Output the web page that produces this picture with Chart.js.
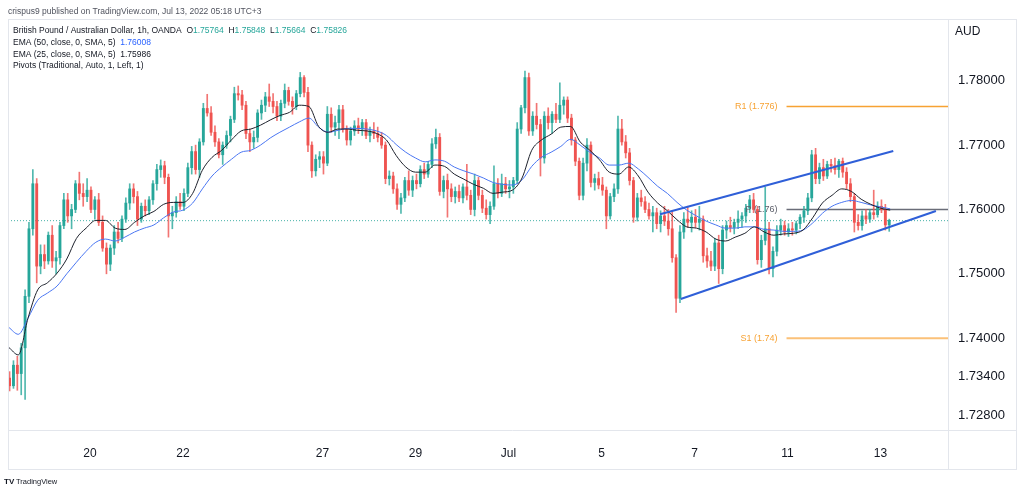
<!DOCTYPE html>
<html><head><meta charset="utf-8">
<script src="https://cdn.jsdelivr.net/npm/chart.js@4.4.0/dist/chart.umd.min.js"></script>
<style>html,body{margin:0;padding:0;background:#fff;}canvas{display:block;}</style>
</head><body>
<canvas id="c" width="1024" height="495" style="width:1024px;height:495px"></canvas>
<script>
// ---- 2-hour OHLC candles, GBP/AUD ----
const opens = [
1.7338,1.7326,1.7358,1.7345,1.7385,1.7465,1.7570,1.7640,1.7512,1.7530,
1.7520,1.7560,1.7520,1.7525,1.7575,1.7615,1.7590,1.7600,1.7640,1.7625,
1.7620,1.7630,1.7600,1.7615,1.7580,1.7540,1.7515,1.7540,1.7565,1.7555,
1.7585,1.7610,1.7632,1.7620,1.7585,1.7605,1.7598,1.7615,1.7640,1.7662,
1.7668,1.7650,1.7590,1.7595,1.7612,1.7605,1.7625,1.7665,1.7690,1.7662,
1.7705,1.7757,1.7750,1.7720,1.7705,1.7685,1.7700,1.7715,1.7740,1.7780,
1.7778,1.7762,1.7718,1.7705,1.7712,1.7750,1.7762,1.7775,1.7768,1.7760,
1.7745,1.7765,1.7785,1.7768,1.7760,1.7780,1.7805,1.7782,1.7700,1.7660,
1.7678,1.7682,1.7672,1.7748,1.7728,1.7735,1.7755,1.7725,1.7708,1.7722,
1.7730,1.7725,1.7735,1.7715,1.7722,1.7718,1.7712,1.7700,1.7648,1.7652,
1.7632,1.7608,1.7618,1.7645,1.7630,1.7645,1.7640,1.7662,1.7655,1.7670,
1.7702,1.7712,1.7628,1.7645,1.7632,1.7620,1.7628,1.7618,1.7635,1.7622,
1.7600,1.7645,1.7622,1.7602,1.7592,1.7605,1.7640,1.7625,1.7640,1.7632,
1.7635,1.7645,1.7725,1.7758,1.7805,1.7722,1.7745,1.7732,1.7680,1.7745,
1.7735,1.7748,1.7740,1.7762,1.7770,1.7742,1.7708,1.7675,1.7622,1.7672,
1.7700,1.7642,1.7648,1.7638,1.7630,1.7590,1.7620,1.7632,1.7725,1.7705,
1.7688,1.7645,1.7588,1.7618,1.7612,1.7600,1.7590,1.7595,1.7578,1.7590,
1.7582,1.7570,1.7525,1.7462,1.7565,1.7585,1.7580,1.7588,1.7580,1.7585,
1.7528,1.7520,1.7512,1.7548,1.7508,1.7568,1.7575,1.7572,1.7580,1.7585,
1.7590,1.7602,1.7615,1.7600,1.7522,1.7552,1.7570,1.7508,1.7535,1.7568,
1.7575,1.7565,1.7570,1.7568,1.7578,1.7588,1.7598,1.7618,1.7685,1.7648,
1.7665,1.7652,1.7670,1.7668,1.7662,1.7675,1.7658,1.7640,1.7620,1.7580,
1.7575,1.7590,1.7585,1.7595,1.7592,1.7605,1.7600,1.7576];
const highs = [
1.7348,1.7365,1.7372,1.7392,1.7475,1.7580,1.7662,1.7648,1.7545,1.7545,
1.7565,1.7575,1.7535,1.7580,1.7625,1.7625,1.7608,1.7645,1.7658,1.7640,
1.7648,1.7635,1.7620,1.7625,1.7590,1.7548,1.7545,1.7575,1.7580,1.7590,
1.7618,1.7640,1.7640,1.7628,1.7610,1.7615,1.7620,1.7645,1.7670,1.7677,
1.7675,1.7655,1.7605,1.7620,1.7625,1.7632,1.7672,1.7698,1.7700,1.7710,
1.7765,1.7779,1.7760,1.7730,1.7710,1.7705,1.7722,1.7745,1.7790,1.7792,
1.7785,1.7768,1.7725,1.7722,1.7755,1.7770,1.7782,1.7795,1.7780,1.7768,
1.7770,1.7795,1.7790,1.7775,1.7785,1.7813,1.7808,1.7790,1.7705,1.7685,
1.7690,1.7690,1.7760,1.7758,1.7745,1.7762,1.7762,1.7730,1.7728,1.7738,
1.7742,1.7740,1.7740,1.7728,1.7735,1.7728,1.7720,1.7705,1.7660,1.7658,
1.7640,1.7625,1.7650,1.7660,1.7652,1.7655,1.7668,1.7672,1.7675,1.7710,
1.7725,1.7718,1.7652,1.7655,1.7640,1.7635,1.7638,1.7640,1.7670,1.7630,
1.7655,1.7650,1.7630,1.7615,1.7612,1.7668,1.7648,1.7655,1.7650,1.7645,
1.7650,1.7735,1.7762,1.7815,1.7812,1.7752,1.7765,1.7740,1.7752,1.7758,
1.7752,1.7765,1.7797,1.7775,1.7775,1.7748,1.7712,1.7680,1.7680,1.7710,
1.7705,1.7655,1.7658,1.7650,1.7635,1.7625,1.7640,1.7745,1.7740,1.7715,
1.7695,1.7650,1.7625,1.7630,1.7620,1.7610,1.7605,1.7602,1.7598,1.7605,
1.7600,1.7598,1.7530,1.7575,1.7595,1.7605,1.7598,1.7600,1.7605,1.7590,
1.7540,1.7535,1.7555,1.7560,1.7575,1.7582,1.7588,1.7585,1.7598,1.7595,
1.7608,1.7622,1.7625,1.7605,1.7560,1.7635,1.7580,1.7542,1.7575,1.7585,
1.7582,1.7578,1.7580,1.7582,1.7592,1.7605,1.7625,1.7692,1.7695,1.7672,
1.7678,1.7675,1.7678,1.7680,1.7678,1.7680,1.7665,1.7648,1.7625,1.7592,
1.7598,1.7600,1.7600,1.7630,1.7612,1.7615,1.7608,1.7585];
const lows = [
1.7318,1.7322,1.7319,1.7312,1.7305,1.7455,1.7560,1.7486,1.7500,1.7508,
1.7515,1.7510,1.7500,1.7515,1.7570,1.7580,1.7570,1.7595,1.7615,1.7605,
1.7612,1.7595,1.7585,1.7575,1.7535,1.7500,1.7505,1.7530,1.7548,1.7550,
1.7580,1.7600,1.7610,1.7575,1.7580,1.7590,1.7592,1.7608,1.7630,1.7650,
1.7640,1.7557,1.7570,1.7588,1.7600,1.7598,1.7620,1.7655,1.7655,1.7650,
1.7700,1.7745,1.7715,1.7698,1.7680,1.7670,1.7695,1.7705,1.7735,1.7770,
1.7755,1.7710,1.7690,1.7695,1.7705,1.7740,1.7752,1.7760,1.7750,1.7738,
1.7738,1.7758,1.7762,1.7748,1.7755,1.7775,1.7775,1.7690,1.7650,1.7652,
1.7665,1.7655,1.7668,1.7720,1.7715,1.7710,1.7720,1.7700,1.7700,1.7715,
1.7718,1.7715,1.7710,1.7705,1.7710,1.7705,1.7695,1.7640,1.7638,1.7625,
1.7600,1.7594,1.7612,1.7622,1.7620,1.7632,1.7635,1.7648,1.7650,1.7665,
1.7695,1.7622,1.7618,1.7588,1.7612,1.7610,1.7612,1.7610,1.7615,1.7592,
1.7590,1.7615,1.7595,1.7585,1.7578,1.7600,1.7618,1.7620,1.7625,1.7618,
1.7625,1.7640,1.7718,1.7750,1.7715,1.7715,1.7725,1.7652,1.7672,1.7725,
1.7718,1.7735,1.7735,1.7748,1.7735,1.7700,1.7668,1.7615,1.7615,1.7660,
1.7635,1.7630,1.7632,1.7622,1.7570,1.7585,1.7612,1.7625,1.7700,1.7680,
1.7638,1.7580,1.7582,1.7605,1.7595,1.7585,1.7565,1.7570,1.7565,1.7575,
1.7560,1.7518,1.7440,1.7455,1.7555,1.7572,1.7565,1.7572,1.7568,1.7518,
1.7510,1.7505,1.7505,1.7485,1.7500,1.7555,1.7565,1.7562,1.7570,1.7572,
1.7580,1.7595,1.7595,1.7515,1.7510,1.7545,1.7500,1.7495,1.7528,1.7560,
1.7560,1.7558,1.7560,1.7562,1.7570,1.7580,1.7592,1.7612,1.7640,1.7640,
1.7645,1.7648,1.7658,1.7655,1.7650,1.7650,1.7632,1.7612,1.7565,1.7568,
1.7568,1.7578,1.7580,1.7585,1.7588,1.7595,1.7568,1.7566];
const closes = [
1.7326,1.7358,1.7345,1.7385,1.7465,1.7570,1.7640,1.7512,1.7530,1.7520,
1.7560,1.7520,1.7525,1.7575,1.7615,1.7590,1.7600,1.7640,1.7625,1.7620,
1.7630,1.7600,1.7615,1.7580,1.7540,1.7515,1.7540,1.7565,1.7555,1.7585,
1.7610,1.7632,1.7620,1.7585,1.7605,1.7598,1.7615,1.7640,1.7662,1.7668,
1.7650,1.7590,1.7595,1.7612,1.7605,1.7625,1.7665,1.7690,1.7662,1.7705,
1.7757,1.7750,1.7720,1.7705,1.7685,1.7700,1.7715,1.7740,1.7780,1.7778,
1.7762,1.7718,1.7705,1.7712,1.7750,1.7762,1.7775,1.7768,1.7760,1.7745,
1.7765,1.7785,1.7768,1.7760,1.7780,1.7805,1.7782,1.7700,1.7660,1.7678,
1.7682,1.7672,1.7748,1.7728,1.7735,1.7755,1.7725,1.7708,1.7722,1.7730,
1.7725,1.7735,1.7715,1.7722,1.7718,1.7712,1.7700,1.7648,1.7652,1.7632,
1.7608,1.7618,1.7645,1.7630,1.7645,1.7640,1.7662,1.7655,1.7670,1.7702,
1.7712,1.7628,1.7645,1.7632,1.7620,1.7628,1.7618,1.7635,1.7622,1.7600,
1.7645,1.7622,1.7602,1.7592,1.7605,1.7640,1.7625,1.7640,1.7632,1.7635,
1.7645,1.7725,1.7758,1.7805,1.7722,1.7745,1.7732,1.7680,1.7745,1.7735,
1.7748,1.7740,1.7762,1.7770,1.7742,1.7708,1.7675,1.7622,1.7672,1.7700,
1.7642,1.7648,1.7638,1.7630,1.7590,1.7620,1.7632,1.7725,1.7705,1.7688,
1.7645,1.7588,1.7618,1.7612,1.7600,1.7590,1.7595,1.7578,1.7590,1.7582,
1.7570,1.7525,1.7462,1.7565,1.7585,1.7580,1.7588,1.7580,1.7585,1.7528,
1.7520,1.7512,1.7548,1.7508,1.7568,1.7575,1.7572,1.7580,1.7585,1.7590,
1.7602,1.7615,1.7600,1.7522,1.7552,1.7570,1.7508,1.7535,1.7568,1.7575,
1.7565,1.7570,1.7568,1.7578,1.7588,1.7598,1.7618,1.7685,1.7648,1.7665,
1.7652,1.7670,1.7668,1.7662,1.7675,1.7658,1.7640,1.7620,1.7580,1.7575,
1.7590,1.7585,1.7595,1.7592,1.7605,1.7600,1.7576,1.7583];

// ---- EMA lines, sampled every 5 trading hours ----
const emaHours = [0,5,10,15,20,25,30,35,40,45,50,55,60,65,70,75,80,85,90,95,
100,105,110,115,120,125,130,135,140,145,150,155,160,165,170,175,180,185,190,195,
200,205,210,215,220,225,230,235,240,245,250,255,260,265,270,275,280,285,290,295,
300,305,310,315,320,325,330,335,340,345,350,355,360,365,370,375,380,385,390,395,
400,405,410,415,420,425,430,435,440,445,450,455];
const ema25 = [
1.7386,1.7374,1.7431,1.7475,1.7486,1.7501,1.7523,1.7555,1.7571,1.7583,
1.7583,1.7571,1.7569,1.7580,1.7590,1.7597,1.7608,1.7611,1.7611,1.7625,
1.7661,1.7681,1.7692,1.7708,1.7722,1.7725,1.7731,1.7739,1.7746,1.7751,
1.7762,1.7760,1.7729,1.7720,1.7725,1.7725,1.7723,1.7722,1.7718,1.7708,
1.7684,1.7666,1.7658,1.7658,1.7669,1.7667,1.7655,1.7647,1.7639,1.7633,
1.7625,1.7627,1.7630,1.7649,1.7692,1.7708,1.7717,1.7728,1.7729,1.7705,
1.7692,1.7677,1.7658,1.7655,1.7666,1.7652,1.7627,1.7610,1.7598,1.7584,
1.7573,1.7571,1.7565,1.7554,1.7551,1.7557,1.7563,1.7573,1.7565,1.7560,
1.7562,1.7563,1.7568,1.7587,1.7610,1.7622,1.7632,1.7628,1.7616,1.7608,
1.7602,1.7599];
const ema50 = [
1.7417,1.7406,1.7431,1.7459,1.7470,1.7481,1.7500,1.7518,1.7535,1.7549,
1.7554,1.7551,1.7557,1.7565,1.7571,1.7576,1.7587,1.7596,1.7599,1.7610,
1.7632,1.7652,1.7666,1.7678,1.7689,1.7692,1.7700,1.7711,1.7720,1.7728,
1.7736,1.7742,1.7728,1.7720,1.7723,1.7726,1.7726,1.7725,1.7722,1.7715,
1.7701,1.7689,1.7680,1.7674,1.7677,1.7675,1.7666,1.7660,1.7655,1.7649,
1.7642,1.7639,1.7638,1.7646,1.7667,1.7681,1.7689,1.7698,1.7709,1.7700,
1.7689,1.7680,1.7669,1.7669,1.7672,1.7663,1.7650,1.7636,1.7625,1.7611,
1.7599,1.7590,1.7582,1.7576,1.7571,1.7571,1.7573,1.7573,1.7569,1.7568,
1.7566,1.7566,1.7568,1.7579,1.7594,1.7605,1.7611,1.7614,1.7611,1.7607,
1.7604,1.7601];

// ---- axes ----
const priceTicks = [1.728, 1.734, 1.74, 1.75, 1.76, 1.77, 1.78];
const dayTickHours = [42, 90, 162, 210, 258, 306, 354, 402, 450];
const dayTickLabels = ['20', '22', '27', '29', 'Jul', '5', '7', '11', '13'];

// ---- pivots ----
const pivotNames = ['R1', 'P', 'S1'];
const pivotValues = [1.776, 1.76, 1.74];
const pivotLabels = ['R1 (1.776)', 'P (1.76)', 'S1 (1.74)'];
const pivotStartHour = 401.5;

// ---- drawn channel (hour, price) ----
const channelUpper = [[336.2, 1.75925], [456.6, 1.76909]];
const channelLower = [[346.9, 1.74609], [478.6, 1.75977]];

const lastPrice = 1.75826;
const xMin = -0.32, xMax = 484.84;
const yMin = 1.72573, yMax = 1.78960;

const UP = '#26a69a', DOWN = '#ef5350';
const candleHour = i => 2 * i + 0.5;
const isUp = i => closes[i] >= opens[i];

const wickData = highs.map((h, i) => ({x: candleHour(i), y: [lows[i], h]}));
const bodyData = opens.map((o, i) => ({x: candleHour(i), y: [o, closes[i]]}));
const ema25Data = emaHours.map((h, i) => ({x: h, y: ema25[i]}));
const ema50Data = emaHours.map((h, i) => ({x: h, y: ema50[i]}));
const pivotColors = ['#f7a233', '#6a6d78', '#fbc178'];

const pivotDatasets = pivotValues.map((v, k) => ({
  type: 'line', data: [{x: pivotStartHour, y: v}, {x: xMax, y: v}],
  borderColor: pivotColors[k], borderWidth: k === 2 ? 2 : 1.5, pointRadius: 0, order: 9
}));

const overlay = {
  id: 'overlay',
  afterDraw(chart) {
    const ctx = chart.ctx, xs = chart.scales.x, ys = chart.scales.y;
    ctx.save();
    // frame
    ctx.strokeStyle = '#e3e6ec'; ctx.lineWidth = 1;
    ctx.strokeRect(8.5, 19.5, 1008, 450);
    ctx.beginPath();
    ctx.moveTo(948.5, 19.5); ctx.lineTo(948.5, 469.5);
    ctx.moveTo(8.5, 430.5); ctx.lineTo(1016.5, 430.5);
    ctx.stroke();
    // header
    ctx.textBaseline = 'middle';
    ctx.font = '8.5px "Liberation Sans", Arial, sans-serif';
    ctx.fillStyle = '#50535e';
    ctx.fillText('crispus9 published on TradingView.com, Jul 13, 2022 05:18 UTC+3', 8, 12);
    // legend
    const seg = (parts, x, y) => {
      for (const [t, c] of parts) { ctx.fillStyle = c; ctx.fillText(t, x, y); x += ctx.measureText(t).width; }
    };
    const dark = '#131722';
    seg([['British Pound / Australian Dollar, 1h, OANDA  ', dark],
         ['O', dark], ['1.75764', UP], ['  H', dark], ['1.75848', UP],
         ['  L', dark], ['1.75664', UP], ['  C', dark], ['1.75826', UP]], 13, 31);
    seg([['EMA (50, close, 0, SMA, 5)  ', dark], ['1.76008', '#2962ff']], 13, 43);
    seg([['EMA (25, close, 0, SMA, 5)  ', dark], ['1.75986', dark]], 13, 54.5);
    seg([['Pivots (Traditional, Auto, 1, Left, 1)', dark]], 13, 66);
    // AUD
    ctx.font = '12px "Liberation Sans", Arial, sans-serif';
    ctx.fillStyle = dark;
    ctx.fillText('AUD', 955, 32);
    // pivot labels
    ctx.font = '9px "Liberation Sans", Arial, sans-serif';
    ctx.textAlign = 'right';
    const lx = xs.getPixelForValue(pivotStartHour) - 9;
    pivotValues.forEach((v, k) => {
      ctx.fillStyle = k === 1 ? '#5d606b' : '#f7a233';
      ctx.fillText(pivotLabels[k], lx, ys.getPixelForValue(v));
    });
    // logo
    ctx.textAlign = 'left';
    ctx.font = 'bold 8px "Liberation Sans", Arial, sans-serif';
    ctx.fillStyle = dark;
    ctx.fillText('TV', 4, 482);
    ctx.font = '7.5px "Liberation Sans", Arial, sans-serif';
    ctx.fillText('TradingView', 16, 482);
    ctx.restore();
  }
};

new Chart(document.getElementById('c'), {
  type: 'bar',
  data: {
    datasets: [
      {type: 'line', data: [{x: xMin, y: lastPrice}, {x: xMax, y: lastPrice}],
       borderColor: 'rgba(38,166,154,0.85)', borderWidth: 1, borderDash: [1, 2], pointRadius: 0, order: 10},
      ...pivotDatasets,
      {type: 'bar', data: wickData, grouped: false, barThickness: 1, order: 8,
       backgroundColor: c => isUp(c.dataIndex) ? 'rgba(38,166,154,0.8)' : 'rgba(239,83,80,0.8)'},
      {type: 'bar', data: bodyData, grouped: false, barThickness: 2.2, minBarLength: 1, order: 7,
       backgroundColor: c => isUp(c.dataIndex) ? UP : DOWN},
      {type: 'line', data: ema50Data, borderColor: '#4a76f2', borderWidth: 1, pointRadius: 0,
       tension: 0.4, cubicInterpolationMode: 'monotone', order: 5},
      {type: 'line', data: ema25Data, borderColor: '#1e222d', borderWidth: 1, pointRadius: 0,
       tension: 0.4, cubicInterpolationMode: 'monotone', order: 4},
      {type: 'line', data: channelUpper.map(p => ({x: p[0], y: p[1]})), borderColor: '#2f5fd8',
       borderWidth: 2, pointRadius: 0, order: 2},
      {type: 'line', data: channelLower.map(p => ({x: p[0], y: p[1]})), borderColor: '#2f5fd8',
       borderWidth: 2, pointRadius: 0, order: 2}
    ]
  },
  options: {
    responsive: false, devicePixelRatio: 1, animation: false,
    layout: {padding: {left: 8, top: 19, right: 0, bottom: 0}},
    plugins: {legend: {display: false}, tooltip: {enabled: false}},
    scales: {
      x: {
        type: 'linear', min: xMin, max: xMax, offset: false,
        afterBuildTicks: s => { s.ticks = dayTickHours.map(v => ({value: v})); },
        afterFit: s => { s.height = 65; },
        grid: {display: false, drawTicks: false}, border: {display: false},
        ticks: {padding: 16, autoSkip: false, maxRotation: 0, color: '#131722',
          font: {family: '"Liberation Sans", Arial, sans-serif', size: 12},
          callback: (v, i) => dayTickLabels[i]}
      },
      y: {
        type: 'linear', position: 'right', min: yMin, max: yMax,
        afterBuildTicks: s => { s.ticks = priceTicks.map(v => ({value: v})); },
        afterFit: s => { s.width = 76; },
        grid: {display: false, drawTicks: false}, border: {display: false},
        ticks: {padding: 10, autoSkip: false, color: '#131722',
          font: {family: '"Liberation Sans", Arial, sans-serif', size: 13},
          callback: v => Number(v).toFixed(5)}
      }
    }
  },
  plugins: [overlay]
});
</script>
</body></html>
